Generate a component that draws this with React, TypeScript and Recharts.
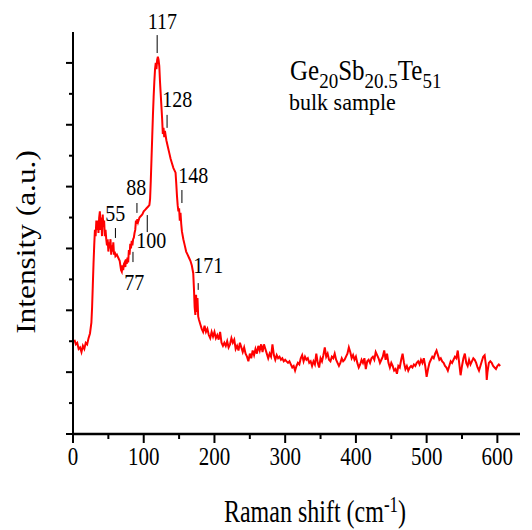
import {
  LineChart,
  Line,
  XAxis,
  YAxis,
  ReferenceLine,
  ReferenceDot,
} from "recharts";

// Raman shift (cm-1) and intensity (a.u.)
const shift = [
  2, 4, 6, 8, 10, 12, 14, 16, 18, 20, 22, 24, 26, 27, 28, 29, 30, 31, 32, 33,
  34, 35, 36, 37, 38, 39, 40, 41, 42, 43, 44, 45, 46, 47, 48, 49, 50, 51, 52,
  53, 54, 55, 56, 57, 58, 59, 60, 62, 64, 66, 68, 69, 70, 71, 72, 73, 74, 75,
  76, 77, 78, 79, 80, 81, 82, 83, 84, 85, 86, 87, 88, 89, 90, 91, 92, 94, 96,
  98, 100, 102, 104, 106, 108, 109, 110, 111, 112, 113, 114, 115, 116, 117,
  118, 119, 120, 121, 122, 123, 124, 125, 126, 127, 128, 129, 130, 131, 132,
  134, 136, 138, 140, 142, 144, 145, 146, 147, 148, 149, 150, 151, 152, 153,
  154, 156, 158, 160, 162, 164, 166, 168, 170, 171, 172, 173, 174, 175, 176,
  177, 178, 180, 182, 184, 186, 188, 190, 192, 194, 196, 198, 200, 202, 204,
  206, 208, 210, 212, 214, 216, 218, 220, 222, 224, 226, 228, 230, 232, 234,
  236, 238, 240, 242, 244, 246, 248, 250, 252, 254, 256, 258, 260, 262, 264,
  266, 268, 270, 272, 274, 276, 278, 280, 282, 284, 286, 288, 290, 292, 294,
  296, 298, 300, 302, 304, 306, 308, 310, 312, 314, 316, 318, 320, 322, 324,
  326, 328, 330, 332, 334, 336, 338, 340, 342, 344, 346, 348, 350, 352, 354,
  356, 358, 360, 362, 364, 366, 368, 370, 372, 374, 376, 378, 380, 382, 384,
  386, 388, 390, 392, 394, 396, 398, 400, 402, 404, 406, 408, 410, 412, 414,
  416, 418, 420, 422, 424, 426, 428, 430, 432, 434, 436, 438, 440, 442, 444,
  446, 448, 450, 452, 454, 456, 458, 460, 462, 464, 466, 468, 470, 472, 474,
  476, 478, 480, 482, 484, 486, 488, 490, 492, 494, 496, 498, 500, 502, 504,
  506, 508, 510, 512, 514, 516, 518, 520, 522, 524, 526, 528, 530, 532, 534,
  536, 538, 540, 542, 544, 546, 548, 550, 552, 554, 556, 558, 560, 562, 564,
  566, 568, 570, 572, 574, 576, 578, 580, 582, 584, 585, 586, 588, 590, 592,
  594, 596, 598, 600, 602, 604,
];

const intensity = [
  3.05, 2.9, 2.95, 2.75, 2.8, 2.65, 2.85, 2.75, 2.95, 2.9, 3.1, 3.25, 3.6, 4.1,
  4.8, 5.5, 6.1, 6.6, 6.4, 6.9, 6.6, 6.9, 6.5, 7.0, 7.2, 6.6, 7.0, 6.4, 7.1,
  6.7, 6.9, 6.4, 6.6, 6.3, 6.1, 6.3, 5.9, 6.2, 6.0, 6.3, 5.8, 6.1, 5.9, 6.2,
  5.8, 5.9, 5.75, 5.8, 5.7, 5.6, 5.3, 5.25, 5.45, 5.3, 5.5, 5.55, 5.4, 5.65,
  5.5, 5.7, 5.55, 5.95, 5.8, 6.15, 6.0, 6.25, 6.1, 6.3, 6.35, 6.5, 6.6, 6.9,
  6.8, 6.95, 6.85, 7.0, 7.05, 7.1, 7.2, 7.25, 7.3, 7.35, 7.4, 7.6, 8.2, 8.9,
  9.6, 10.3, 10.9, 11.4, 11.8, 12.0, 11.8, 12.1, 12.2, 12.1, 11.9, 11.4, 11.0,
  10.6, 10.2, 9.7, 9.9, 9.6, 9.8, 9.65, 9.5, 9.3, 9.1, 8.9, 8.75, 8.6, 8.5,
  8.45, 8.1, 7.7, 7.4, 7.2, 7.3, 6.9, 7.15, 6.8, 6.55, 6.3, 6.1, 5.9, 5.8, 5.7,
  5.6, 5.45, 5.2, 4.7, 4.1, 3.85, 4.5, 3.95, 4.4, 3.8, 3.7, 3.55, 3.4, 3.3,
  3.5, 3.3, 3.4, 3.2, 3.1, 3.3, 3.15, 3.3, 3.1, 3.2, 3.05, 3.3, 2.95, 2.85,
  2.95, 2.85, 3.0, 2.8, 2.9, 3.1, 2.95, 3.05, 2.75, 2.85, 2.7, 2.95, 2.8, 2.65,
  2.8, 2.6, 2.5, 2.35, 2.6, 2.45, 2.7, 2.55, 2.75, 2.6, 2.85, 2.7, 2.9, 2.65,
  2.9, 2.75, 2.6, 2.45, 2.6, 2.5, 2.9, 2.55, 2.4, 2.55, 2.45, 2.5, 2.4, 2.45,
  2.35, 2.4, 2.35, 2.3, 2.35, 2.25, 2.15, 2.2, 2.05, 2.2, 2.3, 2.25, 2.45, 2.55,
  2.35, 2.5, 2.4, 2.45, 2.3, 2.35, 2.2, 2.35, 2.25, 2.6, 2.3, 2.15, 2.45, 2.35,
  2.55, 2.8, 2.5, 2.6, 2.4, 2.35, 2.5, 2.45, 2.6, 2.4, 2.3, 2.2, 2.3, 2.45,
  2.35, 2.4, 2.5, 2.6, 2.8, 2.65, 2.45, 2.55, 2.4, 2.5, 2.3, 2.15, 2.25, 2.4,
  2.3, 2.45, 2.1, 2.35, 2.4, 2.3, 2.45, 2.5, 2.4, 2.65, 2.55, 2.45, 2.3, 2.4,
  2.5, 2.7, 2.4, 2.6, 2.3, 2.15, 2.3, 2.2, 2.05, 2.1, 1.95, 2.2, 2.15, 2.4, 2.6,
  2.3, 2.1, 2.2, 2.05, 2.15, 2.2, 2.15, 2.25, 2.2, 2.3, 2.35, 2.25, 2.4, 2.3,
  2.45, 2.2, 1.85, 2.1, 2.3, 2.4, 2.5, 2.45, 2.6, 2.7, 2.55, 2.4, 2.45, 2.35,
  2.3, 2.2, 2.15, 2.05, 2.2, 2.35, 2.3, 2.4, 2.5, 2.45, 2.7, 2.3, 1.9, 2.2,
  2.45, 2.6, 2.3, 2.2, 2.4, 2.25, 2.35, 2.45, 2.4, 2.3, 2.15, 2.05, 2.2, 2.35,
  2.5, 2.55, 2.2, 1.75, 2.0, 2.3, 2.35, 2.3, 2.2, 2.15, 2.1, 2.2, 2.25, 2.2,
];

const xTicks = [0, 50, 100, 150, 200, 250, 300, 350, 400, 450, 500, 550, 600];
const yTicks = [0, 1, 2, 3, 4, 5, 6, 7, 8, 9, 10, 11, 12];

// peak labels: text, tick x, tick top/bottom, label x, label y
const peakNames = ["117", "128", "148", "171", "55", "88", "100", "77"];
const peakTickX = [119, 133, 154, 177, 60, 90.4, 105, 84.8];
const peakTickTop = [12.9, 10.32, 7.89, 4.88, 6.66, 7.47, 7.08, 5.89];
const peakTickBottom = [12.32, 9.9, 7.47, 4.66, 6.34, 7.15, 6.53, 5.56];
const peakLabelX = [126.2, 147.4, 170, 191.2, 59.8, 89.4, 110.6, 86.6];
const peakLabelY = [13.32, 10.8, 8.34, 5.43, 7.12, 7.96, 6.24, 4.88];

const data = shift.map((x, i) => ({ x, y: intensity[i] }));

const font = "Liberation Serif, serif";

const XTick = (props: any) => {
  const { x, y, payload } = props;
  const major = payload.value % 100 === 0;
  return (
    <g>
      <line x1={x} x2={x} y1={y} y2={y + (major ? 9 : 5)} stroke="#000" strokeWidth={2} />
      {major && (
        <text
          transform={`translate(${x},${y + 31}) scale(1,1.18)`}
          textAnchor="middle"
          fontSize={21}
          fontFamily={font}
          fill="#000"
        >
          {payload.value}
        </text>
      )}
    </g>
  );
};

const YTick = (props: any) => {
  const { x, y, payload } = props;
  const major = payload.value % 2 === 0;
  return <line x1={x - (major ? 7 : 4)} x2={x} y1={y} y2={y} stroke="#000" strokeWidth={2} />;
};

export default function App() {
  return (
    <div style={{ position: "relative", width: 532, height: 530, background: "#fff" }}>
      <style>{`body{margin:0}`}</style>
      <LineChart
        width={532}
        height={530}
        data={data}
        margin={{ top: 32, right: 12, bottom: 36, left: 13 }}
      >
        <XAxis
          dataKey="x"
          type="number"
          domain={[0, 632]}
          ticks={xTicks}
          interval={0}
          height={60}
          tickSize={0}
          tickMargin={0}
          tickLine={false}
          tick={<XTick />}
          axisLine={{ stroke: "#000", strokeWidth: 2.5 }}
        />
        <YAxis
          type="number"
          domain={[0, 13]}
          ticks={yTicks}
          interval={0}
          width={60}
          tickSize={0}
          tickMargin={0}
          tickLine={false}
          tick={<YTick />}
          axisLine={{ stroke: "#000", strokeWidth: 2 }}
        />
        <Line
          type="linear"
          dataKey="y"
          stroke="#ff0000"
          strokeWidth={2}
          dot={false}
          isAnimationActive={false}
        />
        {peakNames.map((name, i) => (
          <ReferenceLine
            key={"l" + name}
            ifOverflow="visible"
            segment={[
              { x: peakTickX[i], y: peakTickTop[i] },
              { x: peakTickX[i], y: peakTickBottom[i] },
            ]}
            stroke="#000"
            strokeWidth={1}
          />
        ))}
        {peakNames.map((name, i) => (
          <ReferenceDot
            key={"d" + name}
            x={peakLabelX[i]}
            y={peakLabelY[i]}
            r={0}
            ifOverflow="visible"
            shape={(p: any) => (
              <text
                transform={`translate(${p.cx},${p.cy + 7}) scale(1,1.2)`}
                textAnchor="middle"
                fontSize={20}
                fontFamily={font}
                fill="#000"
              >
                {name}
              </text>
            )}
          />
        ))}
      </LineChart>
      <svg
        width={532}
        height={530}
        style={{ position: "absolute", left: 0, top: 0, pointerEvents: "none" }}
        fontFamily={font}
        fill="#000"
      >
        <text transform="translate(290,80) scale(1,1.15)" fontSize={25}>
          Ge<tspan fontSize={19} dy={7}>20</tspan>
          <tspan dy={-7}>Sb</tspan>
          <tspan fontSize={19} dy={7}>20.5</tspan>
          <tspan dy={-7}>Te</tspan>
          <tspan fontSize={19} dy={7}>51</tspan>
        </text>
        <text transform="translate(289,110) scale(1,1.05)" fontSize={22}>
          bulk sample
        </text>
        <text transform="translate(315,522) scale(1,1.3)" fontSize={24} textAnchor="middle">
          Raman shift (cm<tspan fontSize={17} dy={-8}>-1</tspan>
          <tspan dy={8}>)</tspan>
        </text>
        <text transform="translate(35,242) rotate(-90) scale(1.12,1)" fontSize={28} textAnchor="middle">
          Intensity (a.u.)
        </text>
      </svg>
    </div>
  );
}
